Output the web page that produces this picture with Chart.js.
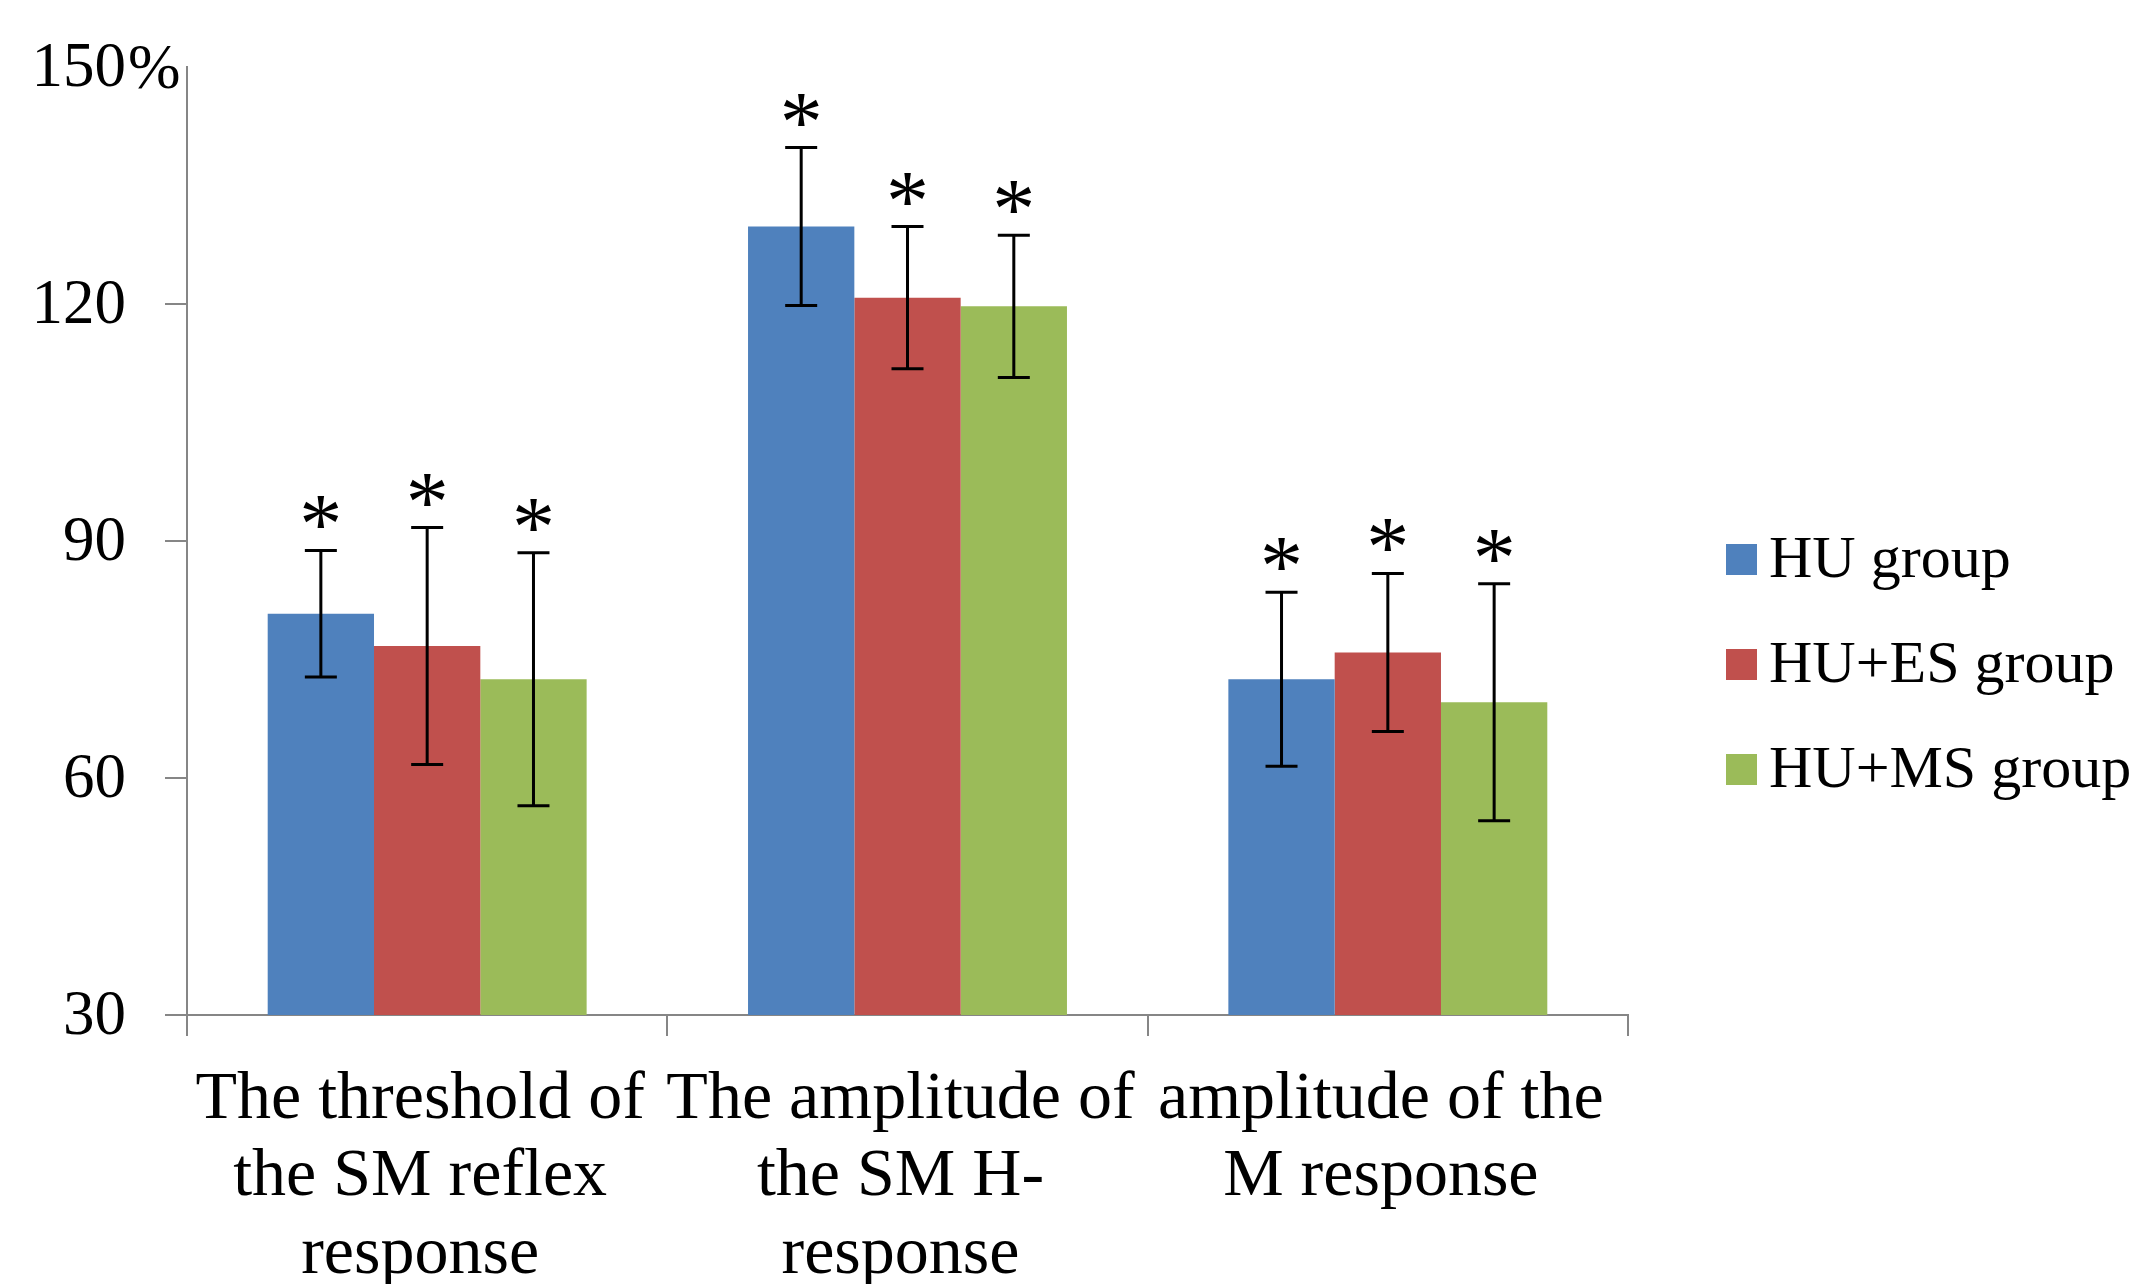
<!DOCTYPE html>
<html>
<head>
<meta charset="utf-8">
<script src="https://cdn.jsdelivr.net/npm/chart.js@4.4.0/dist/chart.umd.min.js"></script>
<style>
  html, body { margin: 0; padding: 0; background: #ffffff; }
  canvas { display: block; }
</style>
</head>
<body>
<canvas id="c" width="2144" height="1284"></canvas>
<script>
// ---- data ----
const categories = [
  ["The threshold of", "the SM reflex", "response"],
  ["The amplitude of", "the SM H-", "response"],
  ["amplitude of the", "M response"]
];
const seriesNames = ["HU group", "HU+ES group", "HU+MS group"];
const huValues   = [80.8, 129.8, 72.5];
const huErrors   = [8, 10, 11];
const esValues   = [76.7, 120.8, 75.9];
const esErrors   = [15, 9, 10];
const msValues   = [72.5, 119.7, 69.6];
const msErrors   = [16, 9, 15];
const yTicks     = [30, 60, 90, 120, 150];
const yUnit      = "%";
const marker     = "*";

const colors = ["#4F81BD", "#C0504D", "#9BBB59"];
const FONT = "'Liberation Serif', 'Times New Roman', serif";

const errorBarPlugin = {
  id: 'errorBars',
  afterDatasetsDraw(chart) {
    const ctx = chart.ctx;
    const y = chart.scales.y;
    ctx.save();
    chart.data.datasets.forEach((ds, di) => {
      const meta = chart.getDatasetMeta(di);
      meta.data.forEach((bar, i) => {
        const v = ds.data[i], e = ds.errors[i];
        const x = bar.x;
        const top = y.getPixelForValue(v + e);
        const bot = y.getPixelForValue(v - e);
        ctx.strokeStyle = '#000';
        ctx.lineWidth = 3;
        ctx.beginPath();
        ctx.moveTo(x, top); ctx.lineTo(x, bot);
        ctx.moveTo(x - 16, top); ctx.lineTo(x + 16, top);
        ctx.moveTo(x - 16, bot); ctx.lineTo(x + 16, bot);
        ctx.stroke();
        // significance marker
        ctx.font = '86px ' + FONT;
        ctx.fillStyle = '#000';
        ctx.textAlign = 'center';
        ctx.textBaseline = 'alphabetic';
        const m = ctx.measureText(marker);
        const asc = m.actualBoundingBoxAscent, desc = m.actualBoundingBoxDescent;
        const centerY = top - 38;
        ctx.fillText(marker, x, centerY + (asc - desc) / 2);
      });
    });
    ctx.restore();
  }
};

const yLabelPlugin = {
  id: 'yLabels',
  afterDraw(chart) {
    const ctx = chart.ctx;
    const y = chart.scales.y;
    ctx.save();
    ctx.font = '63px ' + FONT;
    ctx.fillStyle = '#000';
    ctx.textBaseline = 'middle';
    const rightX = 126;
    yTicks.forEach((t, i) => {
      const py = y.getPixelForValue(t);
      ctx.textAlign = 'right';
      ctx.fillText(String(t), rightX, py + 2);
      if (i === yTicks.length - 1) {
        ctx.textAlign = 'left';
        ctx.fillText(yUnit, rightX + 2, py + 4);
      }
    });
    ctx.restore();
  }
};

const legendPlugin = {
  id: 'customLegend',
  afterDraw(chart) {
    const ctx = chart.ctx;
    ctx.save();
    ctx.font = '60px ' + FONT;
    ctx.textBaseline = 'middle';
    ctx.textAlign = 'left';
    chart.data.datasets.forEach((ds, i) => {
      const cy = 559 + i * 105;
      ctx.fillStyle = ds.backgroundColor;
      ctx.fillRect(1726, cy - 15, 31, 31);
      ctx.fillStyle = '#000';
      ctx.fillText(ds.label, 1769, cy + 2);
    });
    ctx.restore();
  }
};

new Chart(document.getElementById('c'), {
  type: 'bar',
  data: {
    labels: categories,
    datasets: [
      { label: seriesNames[0], data: huValues, errors: huErrors, backgroundColor: colors[0] },
      { label: seriesNames[1], data: esValues, errors: esErrors, backgroundColor: colors[1] },
      { label: seriesNames[2], data: msValues, errors: msErrors, backgroundColor: colors[2] }
    ]
  },
  options: {
    responsive: false,
    animation: false,
    devicePixelRatio: 1,
    layout: { padding: { left: 0, top: 67, right: 516, bottom: 0 } },
    datasets: { bar: { categoryPercentage: 0.664, barPercentage: 1.0, borderWidth: 0 } },
    plugins: { legend: { display: false }, tooltip: { enabled: false } },
    scales: {
      x: {
        grid: { display: true, drawOnChartArea: false, drawTicks: true, tickLength: 21, color: '#868686', lineWidth: 2, offset: true },
        border: { display: true, color: '#868686', width: 2 },
        ticks: {
          autoSkip: false, maxRotation: 0, minRotation: 0,
          color: '#000', padding: 25, labelOffset: -7,
          font: { family: FONT, size: 68, lineHeight: 1.14 }
        },
        afterFit(scale) { scale.height = 269; }
      },
      y: {
        min: 30, max: 150,
        ticks: { stepSize: 30, display: false },
        grid: {
          display: true, drawOnChartArea: false, drawTicks: true, tickLength: 22, lineWidth: 2,
          color: (c) => (c.tick && c.tick.value === 150) ? 'rgba(0,0,0,0)' : '#868686'
        },
        border: { display: true, color: '#868686', width: 2 },
        afterFit(scale) { scale.width = 187; }
      }
    }
  },
  plugins: [errorBarPlugin, yLabelPlugin, legendPlugin]
});
</script>
</body>
</html>
